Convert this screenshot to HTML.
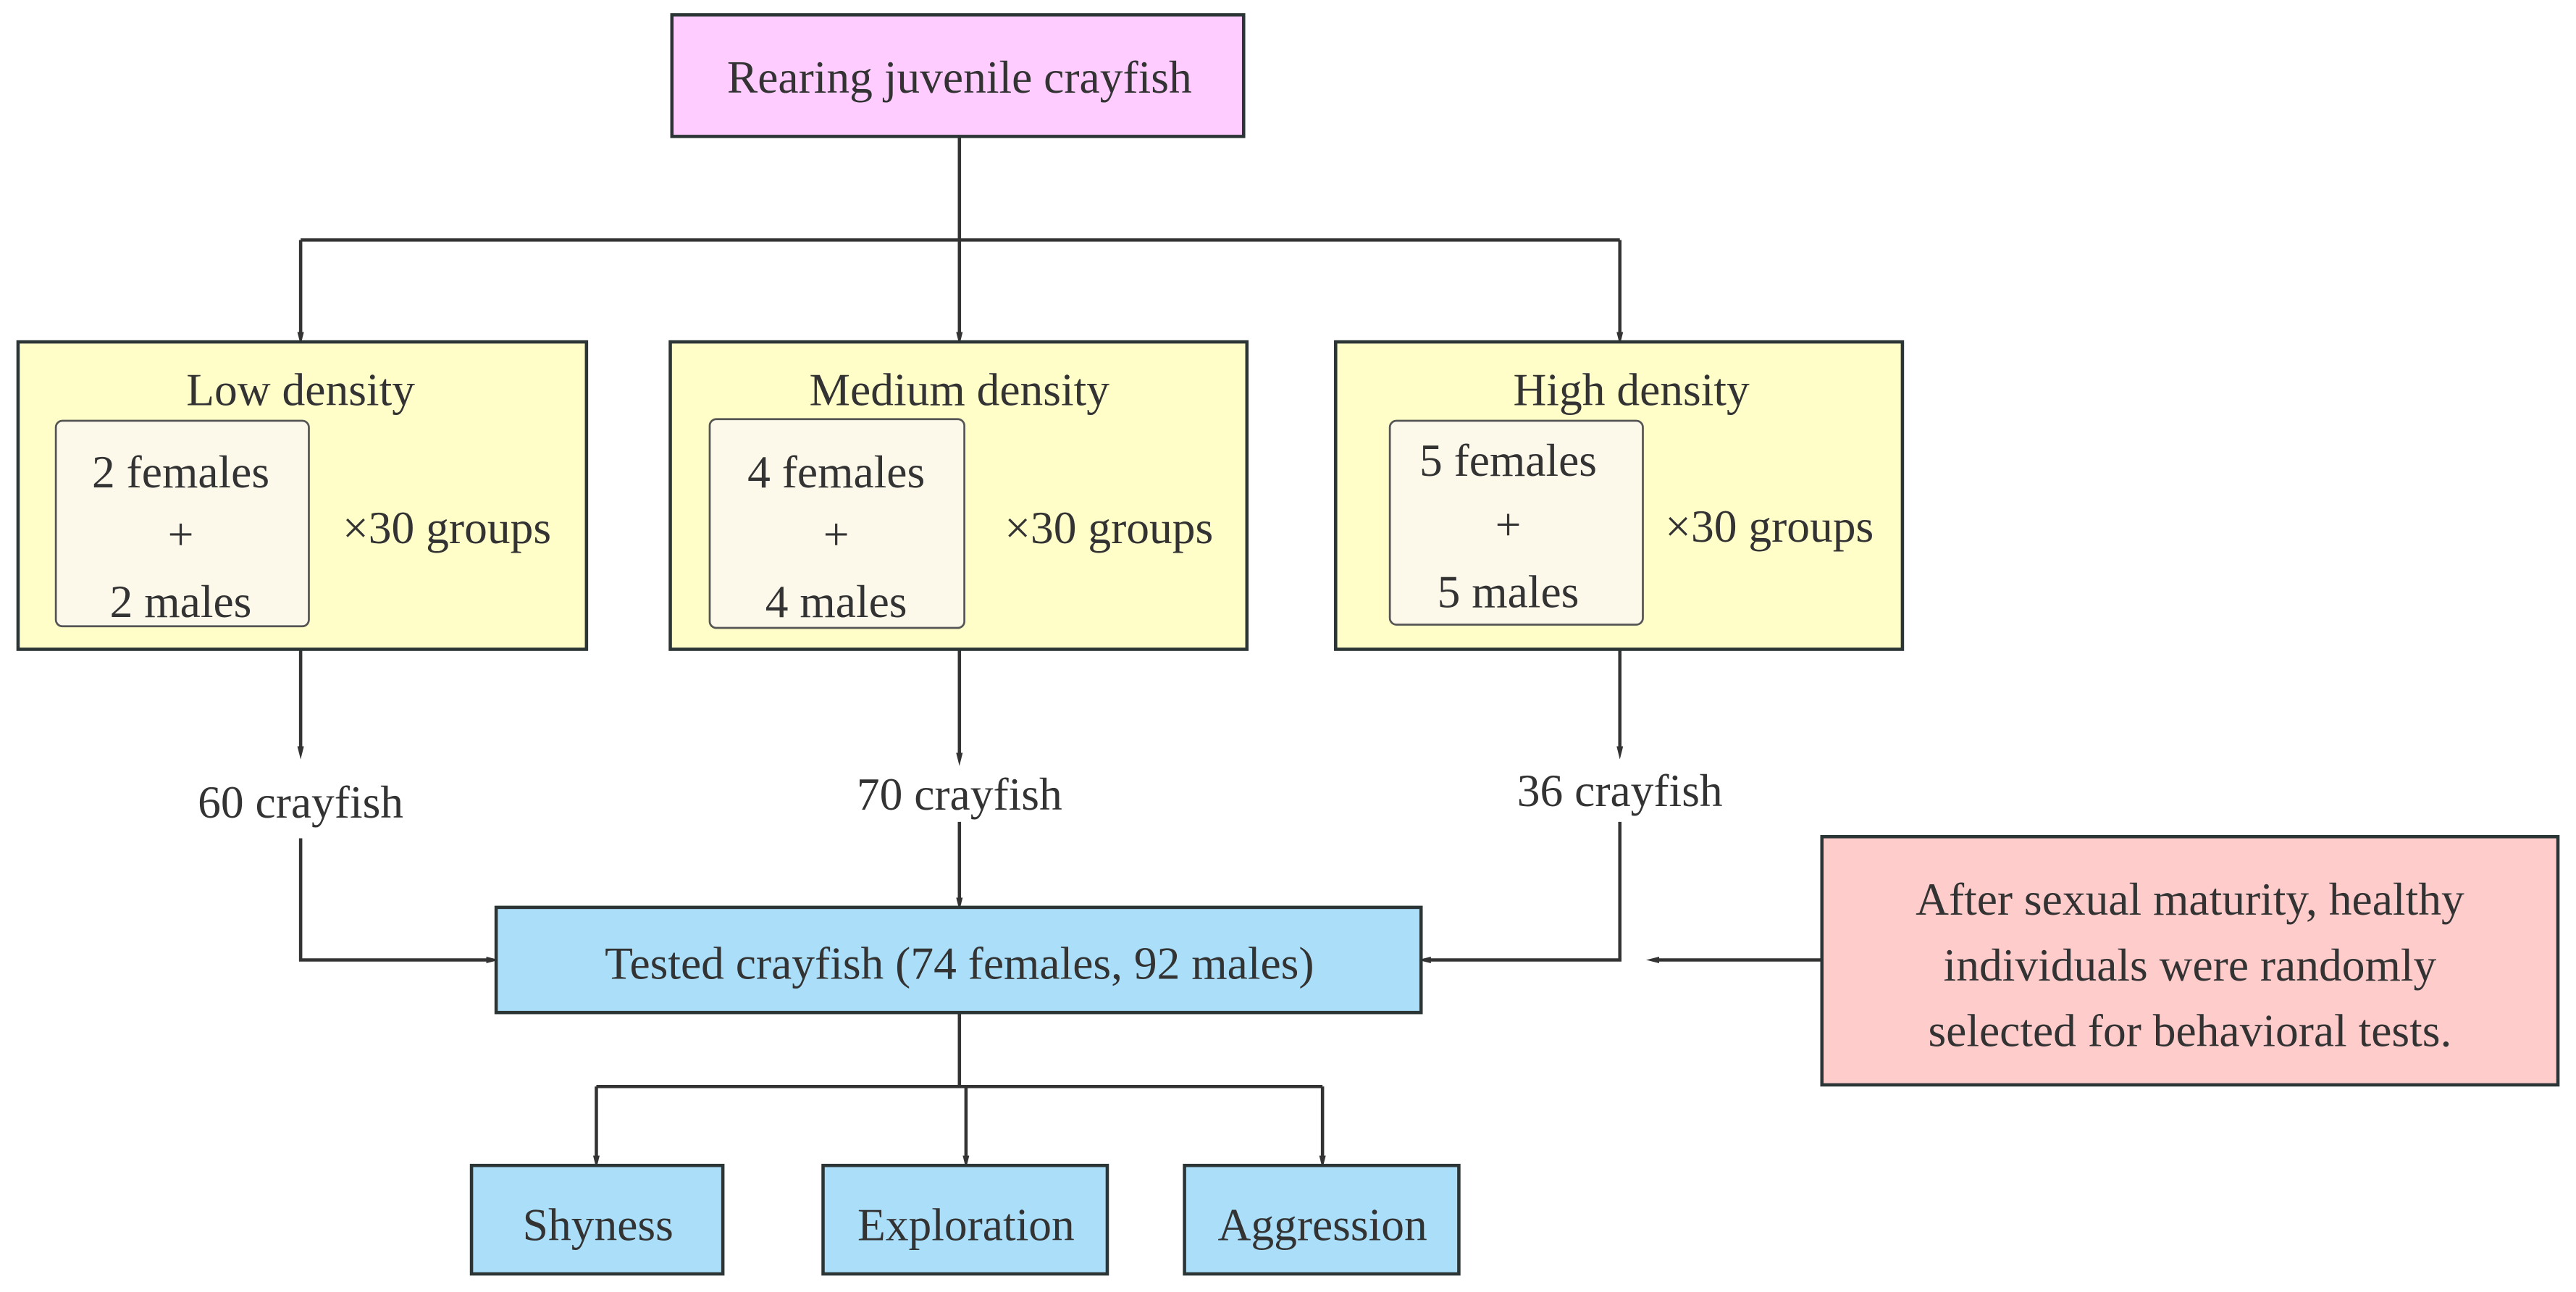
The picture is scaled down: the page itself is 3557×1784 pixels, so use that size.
<!DOCTYPE html>
<html><head><meta charset="utf-8"><style>
html,body{margin:0;padding:0;background:#fff;width:3557px;height:1784px;overflow:hidden}
svg{display:block}
text{font-family:"Liberation Serif",serif;font-size:28px;fill:#333;text-anchor:middle;dominant-baseline:central}
</style></head><body>
<svg width="3557" height="1784" viewBox="0 0 1568 786" preserveAspectRatio="none" xmlns="http://www.w3.org/2000/svg">
<defs>
<marker id="a" markerWidth="8" markerHeight="16" refX="8" refY="4" orient="auto" markerUnits="userSpaceOnUse" viewBox="0 0 16 8">
<path d="M0,0 L16,4 L0,8 z" fill="#333"/></marker>
</defs>
<g fill="none" stroke="#333" stroke-width="2">
<path d="M584,83 V206" marker-end="url(#a)"/>
<path d="M183,146 H986"/>
<path d="M183,146 V206" marker-end="url(#a)"/>
<path d="M986,146 V206" marker-end="url(#a)"/>
<path d="M183,395 V458" marker-end="url(#a)"/>
<path d="M584,395 V462" marker-end="url(#a)"/>
<path d="M986,395 V458" marker-end="url(#a)"/>
<path d="M183,510 V584 H300" marker-end="url(#a)"/>
<path d="M584,500 V550" marker-end="url(#a)"/>
<path d="M986,500 V584 H867" marker-end="url(#a)"/>
<path d="M1109,584 H1006" marker-end="url(#a)"/>
<path d="M584,616 V661"/>
<path d="M363,661 H805"/>
<path d="M363,661 V707" marker-end="url(#a)"/>
<path d="M588,661 V707" marker-end="url(#a)"/>
<path d="M805,661 V707" marker-end="url(#a)"/>
</g>
<g stroke="#2b3535" stroke-width="2">
<rect x="409" y="9" width="348" height="74" fill="#ffccff"/>
<rect x="11" y="208" width="346" height="187" fill="#fffdc8"/>
<rect x="408" y="208" width="351" height="187" fill="#fffdc8"/>
<rect x="813" y="208" width="345" height="187" fill="#fffdc8"/>
<rect x="302" y="552" width="563" height="64" fill="#abdff9"/>
<rect x="1109" y="509" width="448" height="151" fill="#ffcccc"/>
<rect x="287" y="709" width="153" height="66" fill="#abdff9"/>
<rect x="501" y="709" width="173" height="66" fill="#abdff9"/>
<rect x="721" y="709" width="167" height="66" fill="#abdff9"/>
</g>
<g stroke="#555" stroke-width="1.2" fill="#fcf8ea">
<rect x="34" y="256" width="154" height="125" rx="4"/>
<rect x="432" y="255" width="155" height="127" rx="4"/>
<rect x="846" y="256" width="154" height="124" rx="4"/>
</g>
<text x="584" y="47">Rearing juvenile crayfish</text>
<text x="183" y="237">Low density</text>
<text x="584" y="237">Medium density</text>
<text x="993" y="237">High density</text>
<text x="110" y="287">2 females</text><text x="110" y="325">+</text><text x="110" y="366">2 males</text>
<text x="509" y="287">4 females</text><text x="509" y="325">+</text><text x="509" y="366">4 males</text>
<text x="918" y="280">5 females</text><text x="918" y="319">+</text><text x="918" y="360">5 males</text>
<text x="272" y="321">×30 groups</text>
<text x="675" y="321">×30 groups</text>
<text x="1077" y="320">×30 groups</text>
<text x="183" y="488">60 crayfish</text>
<text x="584" y="483">70 crayfish</text>
<text x="986" y="481">36 crayfish</text>
<text x="584" y="586">Tested crayfish (74 females, 92 males)</text>
<text x="1333" y="547">After sexual maturity, healthy</text>
<text x="1333" y="587">individuals were randomly</text>
<text x="1333" y="627">selected for behavioral tests.</text>
<text x="364" y="745">Shyness</text>
<text x="588" y="745">Exploration</text>
<text x="805" y="745">Aggression</text>
</svg>
</body></html>
